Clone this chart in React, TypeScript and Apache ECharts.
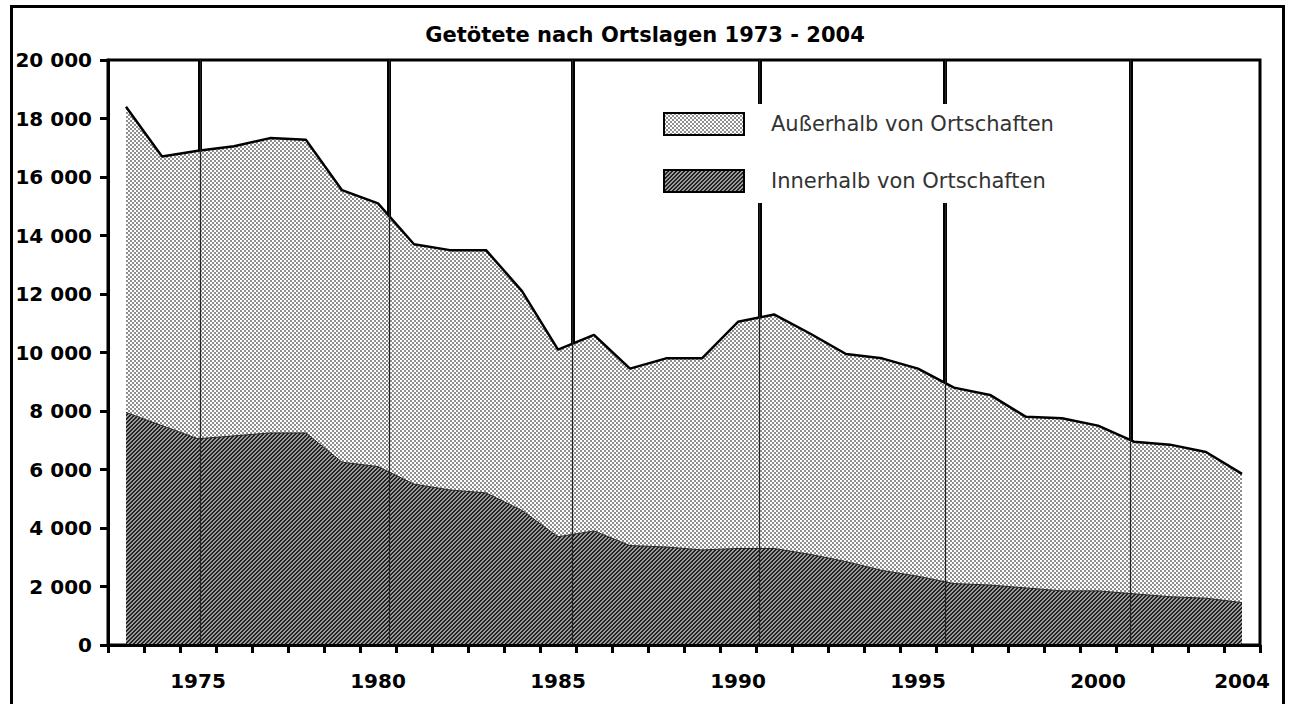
import React, { useEffect, useRef } from 'react';
import * as echarts from 'echarts';

const years = [
  '1973', '1974', '1975', '1976', '1977', '1978', '1979', '1980', '1981', '1982', '1983',
  '1984', '1985', '1986', '1987', '1988', '1989', '1990', '1991', '1992', '1993', '1994',
  '1995', '1996', '1997', '1998', '1999', '2000', '2001', '2002', '2003', '2004',
];
const labelYears = ['1975', '1980', '1985', '1990', '1995', '2000', '2004'];

// Innerhalb von Ortschaften (dark, bottom)
const innerValues = [
  7950, 7500, 7050, 7150, 7250, 7250, 6250, 6100, 5500, 5300, 5200,
  4600, 3700, 3900, 3400, 3350, 3250, 3300, 3300, 3100, 2850, 2550,
  2350, 2100, 2050, 1950, 1850, 1850, 1750, 1650, 1600, 1450,
];
// Außerhalb von Ortschaften (light, stacked on top)
const outerValues = [
  10450, 9200, 9850, 9900, 10080, 10020, 9300, 9000, 8200, 8200, 8300,
  7500, 6400, 6700, 6050, 6450, 6550, 7750, 8000, 7550, 7100, 7250,
  7100, 6700, 6500, 5850, 5900, 5650, 5200, 5200, 5000, 4400,
];
// vertical divider lines (in year units)
const dividerYears = [1975.05, 1980.3, 1985.4, 1990.6, 1995.75, 2000.9];

const nameOuter = 'Außerhalb von Ortschaften';
const nameInner = 'Innerhalb von Ortschaften';

function makeTile(size: number, paint: (ctx: CanvasRenderingContext2D) => void) {
  const c = document.createElement('canvas');
  c.width = size;
  c.height = size;
  const ctx = c.getContext('2d')!;
  paint(ctx);
  return c;
}

export default function App() {
  const ref = useRef<HTMLDivElement>(null);

  useEffect(() => {
    if (!ref.current) return;
    const chart = echarts.init(ref.current, null, { renderer: 'svg' });

    const dotTile = makeTile(4, (ctx) => {
      ctx.fillStyle = '#8e8e8e';
      ctx.fillRect(0, 0, 4, 4);
      ctx.fillStyle = '#ffffff';
      ctx.fillRect(0, 0, 2, 2);
      ctx.fillRect(2, 2, 2, 2);
    });
    const hatchTile = makeTile(4, (ctx) => {
      for (let y = 0; y < 4; y++) {
        for (let x = 0; x < 4; x++) {
          ctx.fillStyle = (x + y) % 4 < 2 ? '#222222' : '#9a9a9a';
          ctx.fillRect(x, y, 1, 1);
        }
      }
    });
    const dotPattern: any = { image: dotTile, repeat: 'repeat', imageWidth: 4, imageHeight: 4 };
    const hatchPattern: any = { image: hatchTile, repeat: 'repeat', imageWidth: 4, imageHeight: 4 };

    const font = 'DejaVu Sans';

    chart.setOption({
      animation: false,
      backgroundColor: '#fff',
      title: {
        text: 'Getötete nach Ortslagen 1973 - 2004',
        left: 'center',
        top: 19,
        textStyle: { fontFamily: font, fontWeight: 'bold', fontSize: 21, color: '#000' },
      },
      legend: {
        orient: 'vertical',
        left: 655,
        top: 104,
        padding: [8, 34, 10, 8],
        backgroundColor: '#fff',
        itemWidth: 80,
        itemHeight: 22,
        itemGap: 33,
        icon: 'rect',
        selectedMode: false,
        z: 10,
        itemStyle: { borderColor: '#000', borderWidth: 2 },
        textStyle: { fontFamily: font, fontSize: 21, color: '#333', padding: [0, 0, 0, 22] },
        data: [
          { name: nameOuter, itemStyle: { color: dotPattern } },
          { name: nameInner, itemStyle: { color: hatchPattern } },
        ],
      },
      grid: {
        left: 108,
        right: 30,
        top: 60,
        bottom: 59,
        show: true,
        borderColor: '#000',
        borderWidth: 3,
        backgroundColor: 'transparent',
      },
      xAxis: [
        {
          type: 'category',
          data: years,
          boundaryGap: true,
          z: 10,
          axisLine: { lineStyle: { color: '#000', width: 3 } },
          axisTick: { show: true, interval: 0, length: 8, lineStyle: { color: '#000', width: 3 } },
          axisLabel: {
            interval: (_i: number, v: string) => labelYears.includes(v),
            margin: 26,
            fontFamily: font,
            fontWeight: 'bold',
            fontSize: 20,
            color: '#000',
          },
          splitLine: { show: false },
        },
        {
          type: 'value',
          show: false,
          min: 1972.5,
          max: 2004.5,
          splitLine: { show: false },
        },
      ],
      yAxis: {
        type: 'value',
        min: 0,
        max: 20000,
        interval: 2000,
        z: 10,
        axisLine: { show: true, lineStyle: { color: '#000', width: 3 } },
        axisTick: { show: true, length: 8, lineStyle: { color: '#000', width: 3 } },
        axisLabel: {
          margin: 16,
          fontFamily: font,
          fontWeight: 'bold',
          fontSize: 20,
          color: '#000',
          formatter: (v: number) => String(v).replace(/\B(?=(\d{3})+(?!\d))/g, ' '),
        },
        splitLine: { show: false },
      },
      series: [
        {
          name: 'dividersBack',
          type: 'line',
          xAxisIndex: 1,
          data: [[1972.5, 0]],
          symbol: 'none',
          silent: true,
          lineStyle: { opacity: 0 },
          markLine: {
            z: 1,
            silent: true,
            symbol: 'none',
            label: { show: false },
            lineStyle: { color: '#000', width: 4, type: 'solid' },
            data: dividerYears.map((x) => ({ xAxis: x })),
          },
        },
        {
          name: nameInner,
          type: 'line',
          stack: 'total',
          data: innerValues,
          z: 3,
          symbol: 'none',
          silent: true,
          lineStyle: { color: '#222', width: 1 },
          areaStyle: { color: hatchPattern, opacity: 1 },
          emphasis: { disabled: true },
        },
        {
          name: nameOuter,
          type: 'line',
          stack: 'total',
          data: outerValues,
          z: 3,
          symbol: 'none',
          silent: true,
          lineStyle: { color: '#000', width: 2.5 },
          areaStyle: { color: dotPattern, opacity: 1 },
          emphasis: { disabled: true },
        },
        {
          name: 'dividersFront',
          type: 'line',
          xAxisIndex: 1,
          data: [[1972.5, 0]],
          symbol: 'none',
          silent: true,
          lineStyle: { opacity: 0 },
          markLine: {
            z: 4,
            silent: true,
            symbol: 'none',
            label: { show: false },
            lineStyle: { color: '#222', width: 1.2, type: 'solid' },
            data: dividerYears.map((x) => ({ xAxis: x })),
          },
        },
      ],
      graphic: [
        {
          type: 'rect',
          silent: true,
          z: 20,
          shape: { x: 11.5, y: 6.5, width: 1272, height: 760 },
          style: { fill: 'none', stroke: '#000', lineWidth: 3 },
        },
      ],
    });

    return () => chart.dispose();
  }, []);

  return (
    <div
      ref={ref}
      style={{ position: 'fixed', left: 0, top: 0, width: 1290, height: 704, background: '#fff' }}
    />
  );
}
